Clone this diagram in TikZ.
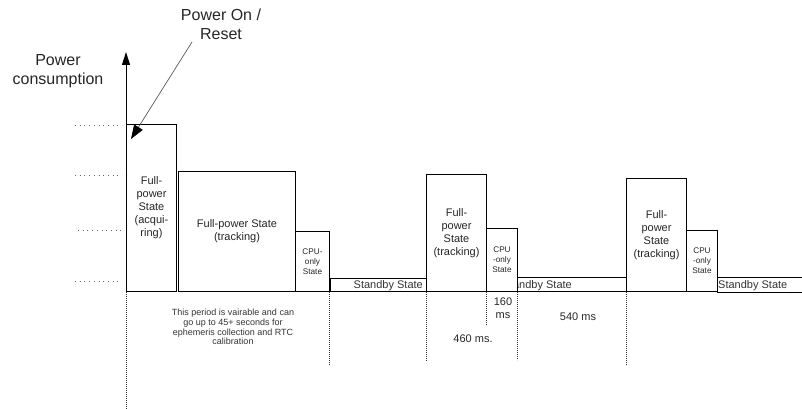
\documentclass[tikz,border=0pt]{standalone}
\usepackage{fontspec}
\setmainfont{Liberation Sans}
\usetikzlibrary{arrows.meta}
\begin{document}
\begin{tikzpicture}[x=1pt,y=-1pt,
  box/.style={draw=black, fill=white, line width=1pt, inner sep=0pt, anchor=south west, align=center, text=black!85},
  big/.style={font=\fontsize{11}{13}\selectfont},
  small/.style={font=\fontsize{8.2}{10}\selectfont},
  sbbox/.style={draw=black, line width=1pt, inner sep=0pt, anchor=south west},
  sblabel/.style={font=\fontsize{11}{13}\selectfont, inner sep=0pt, text=black!80},
  lvl/.style={dash pattern=on 0.9pt off 3.8pt, line width=0.8pt, black!60},
  tick/.style={dash pattern=on 1.2pt off 0.8pt, line width=0.7pt, black!80},
  ann/.style={font=\fontsize{11}{13}\selectfont, inner sep=0pt, align=center, text=black!85},
  title/.style={font=\fontsize{16}{19}\selectfont, inner sep=0pt, align=center, text=black!85},
]
\useasboundingbox (0,0) rectangle (802,409);

% level markers
\coordinate (l1a) at (75,125);  \coordinate (l1b) at (122,125);
\coordinate (l2a) at (75,175);  \coordinate (l2b) at (122,175);
\coordinate (l3a) at (78,230);  \coordinate (l3b) at (122,230);
\coordinate (l4a) at (75,281);  \coordinate (l4b) at (122,281);
\draw[lvl] (l1a) -- (l1b);
\draw[lvl] (l2a) -- (l2b);
\draw[lvl] (l3a) -- (l3b);
\draw[lvl] (l4a) -- (l4b);

% standby boxes
\node[sbbox, minimum width=96pt, minimum height=13pt] (sb1) at (330,292) {};
\node[sblabel, anchor=east] (sbt1) at (423,286) {Standby State};
\node[sbbox, minimum width=109pt, minimum height=14pt] (sb2) at (517,292) {};
\node[sblabel, anchor=east] (sbt2) at (572,286) {Standby State};
\node[inner sep=0pt, anchor=south west, minimum width=86pt, minimum height=14pt] (sb3) at (717,292) {};
\draw[line width=1pt] (sb3.north west) -- (sb3.north east) (sb3.south west) -- (sb3.south east);
\node[sblabel, anchor=west] (sbt3) at (718,286) {Standby State};

% power boxes
\node[box, big, minimum width=50pt, minimum height=167pt] (b1) at (126,292) {Full-\\power\\State\\(acqui-\\ring)};
\node[box, big, minimum width=117pt, minimum height=120pt] (b2) at (178,292) {Full-power State\\(tracking)};
\node[box, small, minimum width=34pt, minimum height=60pt] (b3) at (295,292) {CPU-\\only\\State};
\node[box, big, minimum width=60pt, minimum height=117pt] (b4) at (426,292) {Full-\\power\\State\\(tracking)};
\node[box, small, minimum width=31pt, minimum height=63pt] (b5) at (486,292) {CPU\\-only\\State};
\node[box, big, minimum width=60pt, minimum height=113pt] (b6) at (626,292) {Full-\\power\\State\\(tracking)};
\node[box, small, minimum width=31pt, minimum height=61pt] (b7) at (686,292) {CPU\\-only\\State};

% axis
\coordinate (ax0) at (126,292);
\coordinate (axtop) at (126,52);
\draw[line width=1pt, -{Triangle[length=13pt,width=8pt]}] (ax0) -- (axtop);
\node[title] (ylab) at (58,71) {Power\\consumption};

% power on arrow
\node[title] (por) at (221,24) {Power On /\\Reset};
\coordinate (arrS) at (192,42);
\coordinate (arrE) at (131,139);
\draw[black!65, line width=0.7pt, -{Triangle[length=14pt,width=10pt,fill=black,black]}] (arrS) -- (arrE);

% time markers
\coordinate (t0a) at (126,292); \coordinate (t0b) at (126,409);
\coordinate (t1a) at (329,292); \coordinate (t1b) at (329,365);
\coordinate (t2a) at (426,292); \coordinate (t2b) at (426,361);
\coordinate (t3a) at (486,292); \coordinate (t3b) at (486,326);
\coordinate (t4a) at (517,292); \coordinate (t4b) at (517,360);
\coordinate (t5a) at (626,292); \coordinate (t5b) at (626,365);
\draw[tick] (t0a) -- (t0b);
\draw[tick] (t1a) -- (t1b);
\draw[tick] (t2a) -- (t2b);
\draw[tick] (t3a) -- (t3b);
\draw[tick] (t4a) -- (t4b);
\draw[tick] (t5a) -- (t5b);

% annotations
\node[inner sep=0pt, align=center, text=black!80, font=\fontsize{9}{9.7}\selectfont] (note) at (233,327)
  {This period is vairable and can\\go up to 45+ seconds for\\ephemeris collection and RTC\\calibration};
\node[ann] (m160) at (503,308) {160\\ms};
\node[ann] (m460) at (473,339) {460 ms.};
\node[ann] (m540) at (578,317) {540 ms};
\end{tikzpicture}
\end{document}
